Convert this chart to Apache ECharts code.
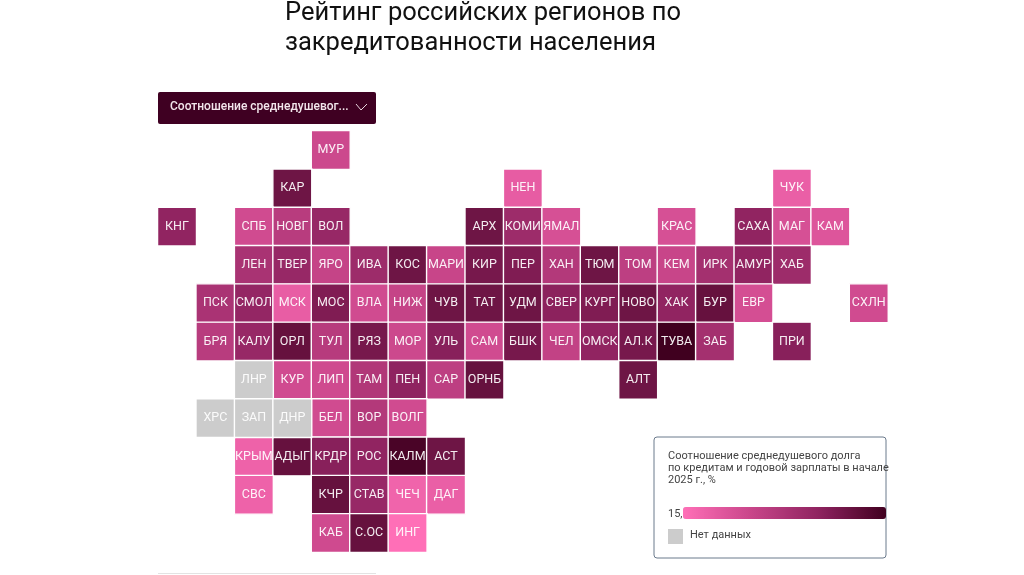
<!DOCTYPE html>
<html><head><meta charset="utf-8">
<style>html,body{margin:0;padding:0;background:#fff}#c{width:1024px;height:575px}</style>
<script src="https://cdn.jsdelivr.net/npm/echarts@6/dist/echarts.min.js"></script>
</head><body><div id="c"></div>
<script>
const titleLines = ['Рейтинг российских регионов по', 'закредитованности населения'];
const dropdownLabel = 'Соотношение среднедушевог...';
const legendTitle = ['Соотношение среднедушевого долга', 'по кредитам и годовой зарплаты в начале', '2025 г., %'];
const noDataLabel = 'Нет данных';
const valueMin = 15.5, valueMax = 151.6;
const minLabel = '15,5', maxLabel = '151,6';
const colIndex = [...Array(19).keys()];
const rowIndex = [...Array(11).keys()];

const regionNames = ['МУР','КАР','НЕН','ЧУК','КНГ','СПБ','НОВГ','ВОЛ','АРХ','КОМИ','ЯМАЛ','КРАС','САХА','МАГ','КАМ',
 'ЛЕН','ТВЕР','ЯРО','ИВА','КОС','МАРИ','КИР','ПЕР','ХАН','ТЮМ','ТОМ','КЕМ','ИРК','АМУР','ХАБ',
 'ПСК','СМОЛ','МСК','МОС','ВЛА','НИЖ','ЧУВ','ТАТ','УДМ','СВЕР','КУРГ','НОВО','ХАК','БУР','ЕВР','СХЛН',
 'БРЯ','КАЛУ','ОРЛ','ТУЛ','РЯЗ','МОР','УЛЬ','САМ','БШК','ЧЕЛ','ОМСК','АЛ.К','ТУВА','ЗАБ','ПРИ',
 'КУР','ЛИП','ТАМ','ПЕН','САР','ОРНБ','АЛТ',
 'БЕЛ','ВОР','ВОЛГ',
 'КРЫМ','АДЫГ','КРДР','РОС','КАЛМ','АСТ',
 'СВС','КЧР','СТАВ','ЧЕЧ','ДАГ',
 'КАБ','С.ОС','ИНГ'];
const regionCols = [4,3,9,16,0,2,3,4,8,9,10,13,15,16,17,
 2,3,4,5,6,7,8,9,10,11,12,13,14,15,16,
 1,2,3,4,5,6,7,8,9,10,11,12,13,14,15,18,
 1,2,3,4,5,6,7,8,9,10,11,12,13,14,16,
 3,4,5,6,7,8,12,
 4,5,6,
 2,3,4,5,6,7,
 2,4,5,6,7,
 4,5,6];
const regionRows = [0,1,1,1,2,2,2,2,2,2,2,2,2,2,2,
 3,3,3,3,3,3,3,3,3,3,3,3,3,3,3,
 4,4,4,4,4,4,4,4,4,4,4,4,4,4,4,4,
 5,5,5,5,5,5,5,5,5,5,5,5,5,5,5,
 6,6,6,6,6,6,6,
 7,7,7,
 8,8,8,8,8,8,
 9,9,9,9,9,
 10,10,10];
const regionValues = [58,125,36,33,105,55,74,100,125,95,50,50,105,50,44,
 86,100,64,95,125,62,120,115,78,125,70,62,90,105,95,
 85,102,35,115,55,64,125,125,125,108,115,125,105,130,52,55,
 74,100,130,75,120,58,110,55,120,66,105,120,151.6,90,110,
 55,56,80,106,70,130,125,
 55,78,55,
 30,130,110,105,146,125,
 30,130,100,28,33,
 56,130,15.5];
const noDataNames = ['ЛНР','ХРС','ЗАП','ДНР'];
const noDataCols = [2,1,2,3];
const noDataRows = [6,7,7,7];

const font = 'Roboto, "Noto Sans", sans-serif';
const cellLabel = {show:true, color:'rgba(255,255,255,0.92)', fontSize:12.5, fontFamily:font,
  formatter:p=>p.data[3]};
const chart = echarts.init(document.getElementById('c'), null, {renderer:'canvas'});
chart.setOption({
  animation:false,
  backgroundColor:'#fff',
  grid:{left:157.8, top:130.9, width:730.2, height:421.3, show:false},
  xAxis:{type:'category', data:colIndex, show:false},
  yAxis:{type:'category', data:rowIndex, inverse:true, show:false},
  tooltip:{show:false},
  visualMap:{type:'continuous', seriesIndex:0, dimension:2, min:valueMin, max:valueMax,
    orient:'horizontal', left:668, top:492, itemHeight:203, itemWidth:12, calculable:false, realtime:false,
    text:null, showLabel:false, hoverLink:false, textStyle:{fontSize:0},
    inRange:{color:['#ff6fb7','#c9468a','#8f2360','#40001f']}},
  series:[
    {type:'heatmap', silent:true, z:2,
     data:regionNames.map((n,i)=>[regionCols[i],regionRows[i],regionValues[i],n]),
     itemStyle:{borderColor:'#fff',borderWidth:1.4}, label:cellLabel, emphasis:{disabled:true}},
    {type:'heatmap', silent:true, z:2,
     data:noDataNames.map((n,i)=>[noDataCols[i],noDataRows[i],0,n]),
     itemStyle:{color:'#cccccc',borderColor:'#fff',borderWidth:1.4}, label:cellLabel, emphasis:{disabled:true}}
  ],
  graphic:[
    {type:'text', left:285, top:1, style:{text:titleLines[0], font:'400 25.5px '+font, fill:'#111'}},
    {type:'text', left:285, top:31, style:{text:titleLines[1], font:'400 25.5px '+font, fill:'#111'}},
    {type:'rect', shape:{x:158,y:92,width:218,height:32,r:2}, style:{fill:'#3f0022'}},
    {type:'text', left:170, top:101, style:{text:dropdownLabel, font:'500 12px '+font, fill:'#f3e6ec'}},
    {type:'polyline', shape:{points:[[356,104],[361,110],[367,104]]}, style:{stroke:'#e8d6df',lineWidth:1,fill:null}},
    {type:'line', shape:{x1:158,y1:573.5,x2:376,y2:573.5}, style:{stroke:'#e3e3e3',lineWidth:1}},
    {type:'rect', z:-1, shape:{x:654,y:437,width:232,height:121,r:3}, style:{fill:'#fff',stroke:'#6b7a8c',lineWidth:1}},
    {type:'text', left:668, top:451, style:{text:legendTitle[0], font:'400 11px '+font, fill:'#444'}},
    {type:'text', left:668, top:463, style:{text:legendTitle[1], font:'400 11px '+font, fill:'#444'}},
    {type:'text', left:668, top:475, style:{text:legendTitle[2], font:'400 11px '+font, fill:'#444'}},
    {type:'text', left:668, top:509, style:{text:minLabel, font:'400 11px '+font, fill:'#444'}},
    {type:'text', right:153, top:509, style:{text:maxLabel, font:'400 11px '+font, fill:'#444', align:'right'}},
    {type:'rect', shape:{x:668,y:529,width:15,height:15}, style:{fill:'#cccccc'}},
    {type:'text', left:690, top:530, style:{text:noDataLabel, font:'400 11px '+font, fill:'#444'}}
  ]
});
</script></body></html>
